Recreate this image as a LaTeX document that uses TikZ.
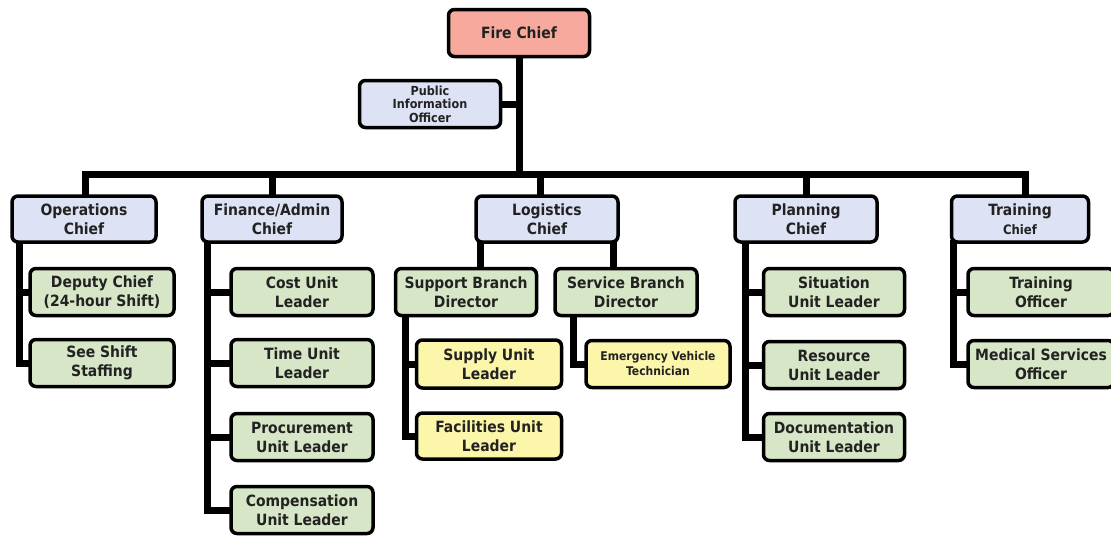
\documentclass[tikz,border=0pt]{standalone}
\usepackage{fontspec}
\setmainfont{DejaVu Sans Condensed}
\usetikzlibrary{backgrounds}
\definecolor{chiefred}{HTML}{F6A99C}
\definecolor{chiefblue}{HTML}{DDE2F5}
\definecolor{unitgreen}{HTML}{D6E6C6}
\definecolor{unityellow}{HTML}{FBF6AA}
\definecolor{inkgray}{HTML}{222222}
\tikzset{
  box/.style={draw=black, line width=3.5pt, rounded corners=6pt, align=center,
    font=\fontsize{15.5}{19}\selectfont\bfseries, text=inkgray, inner sep=0pt},
  redbox/.style={box, fill=chiefred},
  bluebox/.style={box, fill=chiefblue},
  greenbox/.style={box, fill=unitgreen},
  yellowbox/.style={box, fill=unityellow},
  conn/.style={draw=black, line width=7pt, line join=miter, line cap=rect},
}
\begin{document}
\begin{tikzpicture}[x=1pt, y=-1pt]
\useasboundingbox (0,0) rectangle (1111,538);
% top level
\node[redbox, minimum width=141, minimum height=47] (fire) at (519,33) {Fire Chief};
\node[bluebox, minimum width=141, minimum height=47, font=\fontsize{12.5}{13.5}\selectfont\bfseries] (pio) at (430,104) {Public\\Information\\Officer};
% chiefs
\node[bluebox, minimum width=144, minimum height=46] (ops) at (84,219) {Operations\\Chief};
\node[bluebox, minimum width=140, minimum height=46] (fin) at (272,219) {Finance/Admin\\Chief};
\node[bluebox, minimum width=142, minimum height=46] (log) at (547,219) {Logistics\\Chief};
\node[bluebox, minimum width=142, minimum height=46] (plan) at (806,219) {Planning\\Chief};
\node[bluebox, minimum width=137, minimum height=46] (trn) at (1020,219) {Training\\{\fontsize{13}{19}\selectfont\bfseries Chief}};
% operations units
\node[greenbox, minimum width=144, minimum height=47] (dep) at (102,292) {Deputy Chief\\(24-hour Shift)};
\node[greenbox, minimum width=144, minimum height=47] (see) at (102,363) {See Shift\\Staffing};
% finance units
\node[greenbox, minimum width=142, minimum height=47] (cost) at (302,292) {Cost Unit\\Leader};
\node[greenbox, minimum width=142, minimum height=47] (time) at (302,363) {Time Unit\\Leader};
\node[greenbox, minimum width=142, minimum height=47] (proc) at (302,437) {Procurement\\Unit Leader};
\node[greenbox, minimum width=142, minimum height=47] (comp) at (302,510) {Compensation\\Unit Leader};
% logistics branches
\node[greenbox, minimum width=141, minimum height=47] (sup) at (466,292) {Support Branch\\Director};
\node[greenbox, minimum width=142, minimum height=47] (svc) at (626,292) {Service Branch\\Director};
\node[yellowbox, minimum width=145, minimum height=48] (supply) at (489,364) {Supply Unit\\Leader};
\node[yellowbox, minimum width=145, minimum height=46] (fac) at (489,436) {Facilities Unit\\Leader};
\node[yellowbox, minimum width=144, minimum height=47, font=\fontsize{12}{15}\selectfont\bfseries] (evt) at (658,364) {Emergency Vehicle\\Technician};
% planning units
\node[greenbox, minimum width=141, minimum height=47] (sit) at (834,292) {Situation\\Unit Leader};
\node[greenbox, minimum width=141, minimum height=47] (res) at (834,365) {Resource\\Unit Leader};
\node[greenbox, minimum width=141, minimum height=47] (doc) at (834,437) {Documentation\\Unit Leader};
% training units
\node[greenbox, minimum width=146, minimum height=47] (tof) at (1041,292) {Training\\Officer};
\node[greenbox, minimum width=146, minimum height=47] (med) at (1041,364) {Medical Services\\Officer};

% junction points
\coordinate (trunk) at (519,174);
\coordinate (barL) at (85,174);
\coordinate (barR) at (1025,174);
\coordinate (logdrop) at (540,174);
\coordinate (opsx) at (19,0);
\coordinate (finx) at (207,0);
\coordinate (supx) at (405,0);
\coordinate (svcx) at (573,0);
\coordinate (planx) at (745,0);
\coordinate (trnx) at (953,0);
\coordinate (logl) at (480,0);
\coordinate (logr) at (613,0);

% reporting lines, kept behind the boxes
\begin{scope}[on background layer]
\draw[conn] (fire.south) -- (trunk);
\draw[conn] (pio.east) -- (pio.east -| trunk);
\draw[conn] (ops.north -| barL) -- (barL) -- (barR) -- (barR |- trn.north);
\draw[conn] (fin.north) -- (fin.north |- trunk);
\draw[conn] (logdrop) -- (logdrop |- log.north);
\draw[conn] (plan.north) -- (plan.north |- trunk);
% operations
\draw[conn] (opsx |- ops.south) |- (see.west);
\draw[conn] (opsx |- dep.west) -- (dep.west);
% finance
\draw[conn] (finx |- fin.south) |- (comp.west);
\draw[conn] (finx |- cost.west) -- (cost.west);
\draw[conn] (finx |- time.west) -- (time.west);
\draw[conn] (finx |- proc.west) -- (proc.west);
% logistics
\draw[conn] (logl |- log.south) -- (logl |- sup.north);
\draw[conn] (logr |- log.south) -- (logr |- svc.north);
\draw[conn] (supx |- sup.south) |- (fac.west);
\draw[conn] (supx |- supply.west) -- (supply.west);
\draw[conn] (svcx |- svc.south) |- (evt.west);
% planning
\draw[conn] (planx |- plan.south) |- (doc.west);
\draw[conn] (planx |- sit.west) -- (sit.west);
\draw[conn] (planx |- res.west) -- (res.west);
% training
\draw[conn] (trnx |- trn.south) |- (med.west);
\draw[conn] (trnx |- tof.west) -- (tof.west);
\end{scope}
\end{tikzpicture}
\end{document}
